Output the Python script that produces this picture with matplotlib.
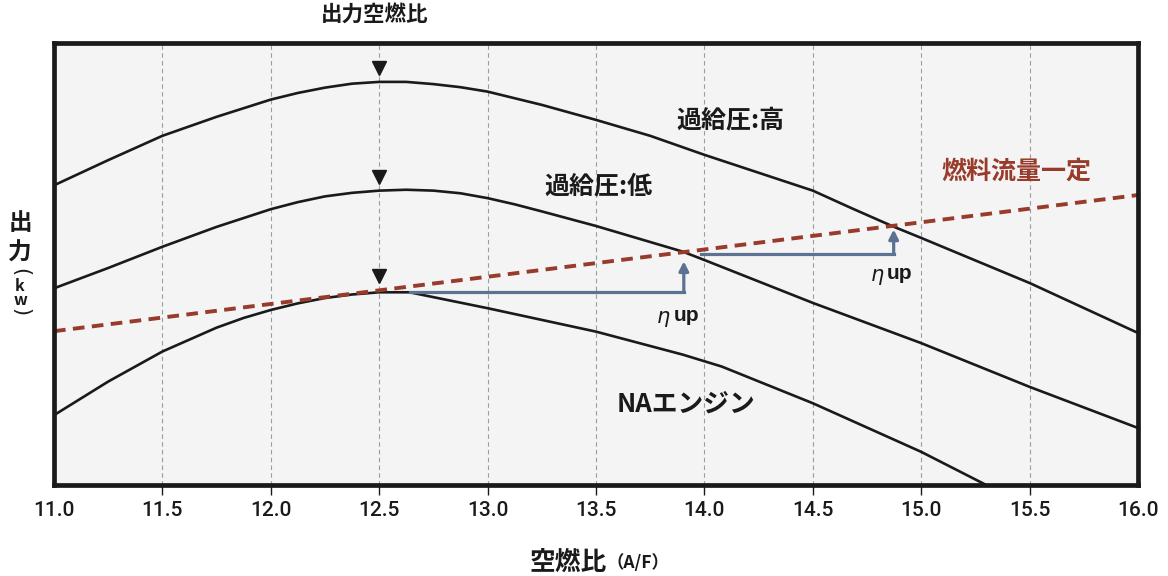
import matplotlib
matplotlib.use("Agg")
import matplotlib.pyplot as plt

plt.rcParams["font.family"] = ["Noto Sans CJK JP", "DejaVu Sans"]

# x axis: air/fuel ratio
af_ticks = [11.0, 11.5, 12.0, 12.5, 13.0, 13.5, 14.0, 14.5, 15.0, 15.5, 16.0]
tick_labels = ["11.0", "11.5", "12.0", "12.5", "13.0", "13.5",
               "14.0", "14.5", "15.0", "15.5", "16.0"]

# output curves (arbitrary units, 0 = bottom of frame, 100 = top)
af_high = [11.0, 11.25, 11.5, 11.75, 12.0, 12.125, 12.25, 12.375, 12.5,
           12.625, 12.75, 12.875, 13.0, 13.25, 13.5, 13.75, 14.0, 14.5,
           14.68, 14.87, 15.0, 15.5, 16.0]
out_high = [67.8, 73.5, 79.0, 83.3, 87.2, 88.7, 89.9, 90.8, 91.2,
            91.2, 90.7, 90.0, 89.0, 86.0, 82.6, 79.0, 74.7, 66.6,
            62.6, 58.5, 55.9, 45.7, 34.4]

af_low = [11.0, 11.25, 11.5, 11.75, 12.0, 12.125, 12.25, 12.375, 12.5,
          12.625, 12.75, 12.875, 13.0, 13.125, 13.25, 13.5, 13.9, 14.0,
          14.5, 15.0, 15.5, 16.0]
out_low = [44.5, 49.1, 53.9, 58.4, 62.4, 64.0, 65.3, 66.1, 66.6,
           66.8, 66.6, 66.0, 64.9, 63.5, 61.9, 58.6, 52.8, 50.9,
           41.2, 32.1, 22.2, 12.9]

af_na = [11.0, 11.25, 11.5, 11.75, 11.875, 12.0, 12.125, 12.25, 12.375,
         12.5, 12.64, 13.0, 13.5, 13.9, 14.08, 14.5, 15.0, 15.3]
out_na = [15.8, 23.4, 30.2, 35.6, 37.8, 39.6, 41.1, 42.3, 43.1,
          43.6, 43.6, 40.0, 34.7, 29.5, 26.8, 18.5, 7.5, 0.0]

# constant fuel-flow line
af_fuel = [11.0, 16.0]
out_fuel = [34.8, 65.6]

# peak markers
peak_af = [12.5, 12.5, 12.5]
peak_out = [94.3, 69.7, 47.3]

# efficiency-up arrows (corner path)
arrow1_af = [12.64, 13.905, 13.905]
arrow1_out = [43.6, 43.6, 50.6]
arrow2_af = [13.985, 14.873, 14.873]
arrow2_out = [52.2, 52.2, 57.8]

BLACK = "#1a1a1a"
FUEL = "#983b2b"
ARROW = "#5b7292"

W, H = 1168, 576
fig = plt.figure(figsize=(W / 100, H / 100), dpi=100)
ax = fig.add_axes([54 / W, 1 - 485 / H, 1084 / W, 442 / H])
ax.set_facecolor("#f4f4f4")

ax.set_xlim(11.0, 16.0)
ax.set_ylim(0, 100)

ax.grid(axis="x", color="#9c9c9c", linewidth=0.8, linestyle=(0, (4, 3)))
ax.set_axisbelow(True)

for spine in ax.spines.values():
    spine.set_linewidth(3.4)
    spine.set_color(BLACK)

ax.set_xticks(af_ticks)
ax.set_xticklabels(tick_labels, fontfamily=["Roboto", "Liberation Sans"],
                   fontweight="medium", fontsize=15, color=BLACK)
ax.tick_params(axis="x", direction="out", length=7.5, width=1.0,
               color=BLACK, pad=4)
ax.set_yticks([])
xticks = ax.xaxis.get_major_ticks()
xticks[0].tick1line.set_visible(False)
xticks[-1].tick1line.set_visible(False)

# curves
for xs, ys in [(af_high, out_high), (af_low, out_low), (af_na, out_na)]:
    ax.plot(xs, ys, color=BLACK, linewidth=1.9, solid_joinstyle="round")

fuel_line, = ax.plot(af_fuel, out_fuel, color=FUEL, linewidth=2.8)
fuel_line.set_dashes((3.0, 1.9))

ax.plot(peak_af, peak_out, linestyle="none", marker="v", markersize=10.5,
        color=BLACK)

# efficiency-up arrows
for xs, ys in [(arrow1_af, arrow1_out), (arrow2_af, arrow2_out)]:
    ax.plot(xs[:2], ys[:2], color=ARROW, linewidth=2.3,
            solid_capstyle="projecting")
    ax.annotate("", xy=(xs[2], ys[2]), xytext=(xs[1], ys[1]),
                arrowprops=dict(arrowstyle="-|>,head_length=0.55,head_width=0.28",
                                color=ARROW, lw=2.3, shrinkA=0, shrinkB=0))

# labels inside plot
ax.text(14.12, 82.6, "過給圧:高", fontsize=18, fontweight="bold",
        color=BLACK, ha="center", va="center")
ax.text(13.51, 67.5, "過給圧:低", fontsize=18, fontweight="bold",
        color=BLACK, ha="center", va="center")
ax.text(15.44, 70.9, "燃料流量一定", fontsize=18, fontweight="bold",
        color=FUEL, ha="center", va="center")
ax.text(13.915, 18.1, "NAエンジン", fontsize=18.5, fontweight="bold",
        color=BLACK, ha="center", va="center")

for x0, y0 in [(13.85, 38.1), (14.833, 47.5)]:
    ax.annotate("η", xy=(x0, y0), xytext=(-1, 0), textcoords="offset points",
                fontfamily="DejaVu Sans", fontstyle="italic", fontsize=15,
                color=BLACK, ha="right", va="center")
    ax.annotate("up", xy=(x0, y0), xytext=(1, 1), textcoords="offset points",
                fontfamily="Liberation Sans", fontweight="bold", fontsize=15,
                color=BLACK, ha="left", va="center")

# text outside the frame
fig.text(375 / W, 1 - 14 / H, "出力空燃比", fontsize=15.5, fontweight="bold",
         color=BLACK, ha="center", va="center")

fig.text(607 / W, 1 - 562 / H, "空燃比", fontsize=18.5, fontweight="bold",
         color=BLACK, ha="right", va="center")
fig.text(607 / W, 1 - 563 / H, "（A/F）", fontsize=12.5, fontweight="bold",
         color=BLACK, ha="left", va="center")

# vertical y label: 出力 (kw)
fig.text(20 / W, 1 - 223 / H, "出", fontsize=17, fontweight="bold",
         color=BLACK, ha="center", va="center")
fig.text(20 / W, 1 - 253 / H, "力", fontsize=17, fontweight="bold",
         color=BLACK, ha="center", va="center")
fig.text(20 / W, 1 - 272 / H, "(", fontsize=15, fontfamily="DejaVu Sans",
         color=BLACK, ha="center", va="center", rotation=-90)
fig.text(20 / W, 1 - 286 / H, "k", fontsize=11.5, fontweight="bold",
         color=BLACK, ha="center", va="center")
fig.text(20 / W, 1 - 300 / H, "w", fontsize=11.5, fontweight="bold",
         color=BLACK, ha="center", va="center")
fig.text(20 / W, 1 - 312 / H, ")", fontsize=15, fontfamily="DejaVu Sans",
         color=BLACK, ha="center", va="center", rotation=-90)

fig.savefig("out.png", dpi=100, facecolor="white")
